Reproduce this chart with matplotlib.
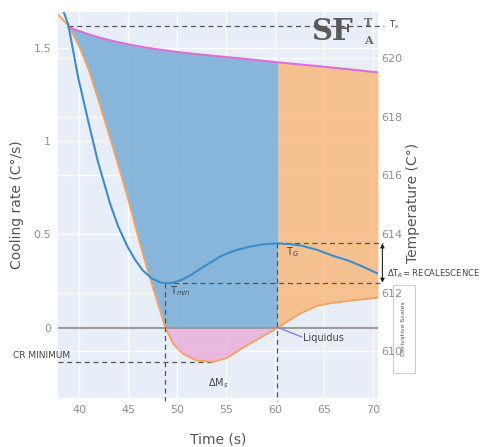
import numpy as np
import matplotlib
matplotlib.use("Agg")
import matplotlib.pyplot as plt
import matplotlib.transforms as mtransforms
from matplotlib.patches import Rectangle

# cooling rate (left axis)
t_rate = [37.8, 38.9, 40.0, 41.0, 42.0, 43.0, 44.0, 45.0, 46.0, 47.0, 48.0, 48.8,
          49.6, 50.6, 52.0, 53.7, 55.1, 56.7, 58.5, 60.3, 62.5, 64.3, 66.0, 68.0, 70.5]
rate = [1.68, 1.62, 1.51, 1.38, 1.215, 1.045, 0.87, 0.69, 0.49, 0.305, 0.135, 0.0,
        -0.088, -0.141, -0.178, -0.184, -0.163, -0.109, -0.055, 0.0, 0.073, 0.117, 0.133, 0.146, 0.16]
# upper (magenta) boundary, same times from 38.9 on
top_rate = [1.612, 1.59, 1.572, 1.556, 1.542, 1.53, 1.519, 1.509, 1.50, 1.492, 1.486,
            1.48, 1.474, 1.466, 1.457, 1.45, 1.442, 1.432, 1.422, 1.411, 1.402, 1.393, 1.382, 1.368]

# cooling curve (right axis)
t_temp = [38.35, 38.9, 39.9, 40.9, 41.9, 43.15, 44.0, 44.9, 45.7, 46.5, 47.4, 48.3, 48.9,
          49.6, 50.4, 51.3, 52.3, 53.4, 54.6, 56.0, 57.4, 58.8, 60.2, 61.4, 62.6, 64.2,
          65.9, 67.6, 69.0, 70.5]
temp = [621.65, 621.13, 619.35, 617.9, 616.5, 615.05, 614.25, 613.6, 613.13, 612.76,
        612.49, 612.35, 612.32, 612.34, 612.43, 612.58, 612.8, 613.03, 613.27, 613.45,
        613.57, 613.65, 613.68, 613.66, 613.61, 613.47, 613.26, 613.08, 612.88, 612.65]

t_s = 38.9          # start of solidification
t_min, T_min = 48.8, 612.34
t_g, T_g = 60.2, 613.68
cr_s = 1.617
t_crmin, cr_min = 53.7, -0.184

x_ticks = [40, 45, 50, 55, 60, 65, 70]
left_ticks = [0, 0.5, 1, 1.5]
left_labels = ["0", "0.5", "1", "1.5"]
right_ticks = [610, 612, 614, 616, 618, 620]

bg = "#E8EEF7"
tick_col = "#909090"

fig = plt.figure(figsize=(4.85, 4.47), dpi=100)
ax = fig.add_axes([58 / 485, 1 - 398 / 447, 320 / 485, 386 / 447])
ax2 = ax.twinx()
ax.set_facecolor(bg)
ax2.patch.set_visible(False)

ax.set_xlim(37.85, 70.5)
ax.set_ylim(-0.378, 1.692)
ax2.set_ylim(608.41, 621.57)

# grid under everything
for x in x_ticks:
    ax.axvline(x, color="white", lw=1, zorder=0)
for y in left_ticks:
    ax.axhline(y, color="white", lw=1, zorder=0)
blend = mtransforms.blended_transform_factory(ax.transAxes, ax2.transData)
for y in right_ticks:
    ax.plot([0, 1], [y, y], color="white", lw=1, transform=blend, zorder=0)

tr = np.array(t_rate[1:])
r = np.array(rate[1:])
top = np.array(top_rate)

ax.fill_between(tr, top, np.maximum(r, 0), where=tr <= t_g + 0.15,
                color="#7fb2d8", alpha=0.92, lw=0, zorder=1)
ax.fill_between(tr, top, r, where=tr >= t_g + 0.05,
                color="#f8bd88", alpha=0.92, lw=0, zorder=1)
ax.fill_between(tr, 0, np.minimum(r, 0), where=(tr >= t_min) & (tr <= t_g + 0.15),
                color="#eab5e0", alpha=0.95, lw=0, zorder=1)

ax.axhline(0, color="#9c9c9c", lw=1.5, zorder=2)
ax.plot(t_rate, rate, color="#f5a261", lw=1.3, zorder=3)
ax.plot(tr, top, color="#dc6fd8", lw=1.5, zorder=3)

ax2.plot(t_temp, temp, color="#3b8dcc", lw=1.5, zorder=3)

dash = dict(color="#555555", lw=0.9, ls=(0, (4, 3)))
ax.plot([t_s, 71.1], [cr_s, cr_s], clip_on=False, **dash)
ax.plot([37.85, t_crmin], [cr_min, cr_min], **dash)
ax2.plot([t_min, 71.0], [T_min, T_min], clip_on=False, **dash)
ax2.plot([t_g, 71.0], [T_g, T_g], clip_on=False, **dash)
ax2.plot([t_min, t_min], [T_min, 608.3], clip_on=False, **dash)
ax2.plot([t_g, t_g], [T_g, 608.3], clip_on=False, **dash)

ax2.annotate("", xy=(70.95, T_g), xytext=(70.95, T_min), annotation_clip=False,
             arrowprops=dict(arrowstyle="<|-|>", color="#222222", lw=0.8,
                             mutation_scale=6, shrinkA=0, shrinkB=0))

txt = "#444444"
ax2.text(49.3, 612.28, r"T$_{min}$", fontsize=7, color=txt, va="top")
ax2.text(61.1, 613.62, r"T$_G$", fontsize=7, color=txt, va="top")
ax2.text(71.45, T_g - 1.02, r"$\Delta$T$_R$= RECALESCENCE", fontsize=6, color=txt,
         va="center", clip_on=False)
ax2.text(71.6, 621.15, r"T$_s$", fontsize=6, color=txt, va="center", clip_on=False)
ax.text(33.3, -0.152, "CR MINIMUM", fontsize=6.5, color=txt, va="center", clip_on=False)
ax.text(53.2, -0.3, r"$\Delta$M$_s$", fontsize=7, color=txt, va="center")
ax.plot([60.3, 62.7], [0, -0.05], color="#8080f0", lw=1, zorder=4)
ax.text(62.8, -0.058, "Liquidus", fontsize=7, color=txt, va="center")

# small legend box, behind the tick labels
fig.patches.append(Rectangle((393 / 485, 1 - 373 / 447), 22 / 485, 88 / 447, zorder=-1,
                             transform=fig.transFigure, fc="white", ec="#cccccc", lw=0.8))
fig.text(404 / 485, 1 - 329 / 447, "Derivative Scales", rotation=90, fontsize=4.5,
         color="#555555", ha="center", va="center")

# logo
fig.text(332 / 485, 1 - 31 / 447, "SF", fontsize=21, fontweight="bold", family="DejaVu Serif",
         color="#5a5a5a", ha="center", va="center")
fig.text(368 / 485, 1 - 22 / 447, "T", fontsize=8, fontweight="bold", family="DejaVu Serif",
         color="#6a6a6a", ha="center", va="center")
fig.text(368 / 485, 1 - 40 / 447, "A", fontsize=8, fontweight="bold", family="DejaVu Serif",
         color="#6a6a6a", ha="center", va="center")

ax.set_xticks(x_ticks)
ax.set_yticks(left_ticks)
ax.set_yticklabels(left_labels)
ax2.set_yticks(right_ticks)
ax.tick_params(length=0, labelsize=8, labelcolor=tick_col, pad=5)
ax2.tick_params(length=0, labelsize=8, labelcolor=tick_col, pad=2)
for sp in list(ax.spines.values()) + list(ax2.spines.values()):
    sp.set_visible(False)

ax.set_xlabel("Time (s)", fontsize=10, color="#555555")
ax.xaxis.set_label_coords(0.5, -0.09)
ax.set_ylabel("Cooling rate (C°/s)", fontsize=10, color="#555555")
ax.yaxis.set_label_coords(-0.106, 0.5)
ax2.set_ylabel("Temperature (C°)", fontsize=10, color="#555555")
ax2.yaxis.set_label_coords(1.0875, 0.505)

fig.savefig("out.png", dpi=100)
